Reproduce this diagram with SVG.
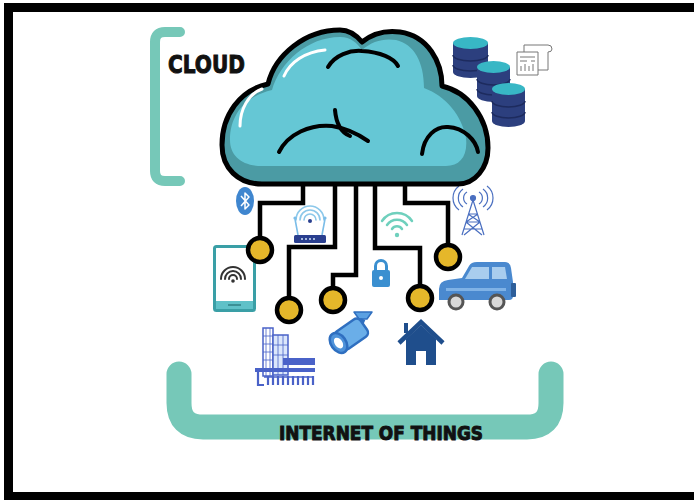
<svg xmlns="http://www.w3.org/2000/svg" width="694" height="500" viewBox="0 0 694 500">
  <defs>
    <style>
      .label { font-family: "DejaVu Sans", "Liberation Sans", sans-serif; font-weight: bold; fill: #111; stroke: #111; stroke-width: 1; }
      .bracket { fill: none; stroke: #76c8b8; stroke-linecap: round; stroke-linejoin: round; }
      .wire { fill: none; stroke: #000; stroke-width: 4.5; stroke-linejoin: miter; }
      .pad { fill: #e5b72a; stroke: #000; stroke-width: 4.5; }
      .db-body { fill: #2c3f7e; }
      .db-top { fill: #38b7c5; }
      .db-band { fill: none; stroke: #1d2b5e; stroke-width: 1.5; }
      .wave { fill: none; stroke-linecap: round; }
    </style>
  </defs>

  <rect width="694" height="500" fill="#fff"/>
  <!-- outer frame, open on the right -->
  <rect x="8.5" y="7.5" width="700" height="489" fill="none" stroke="#000" stroke-width="9"/>

  <!-- brackets and titles -->
  <g id="cloud-label">
    <path class="bracket" stroke-width="10" d="M180 32 H165 Q155 32 155 42 V171 Q155 181 165 181 H180"/>
    <text class="label" x="168" y="73" font-size="24" textLength="77" lengthAdjust="spacingAndGlyphs">CLOUD</text>
  </g>
  <g id="iot-label">
    <path class="bracket" stroke-width="25" d="M179 374 V403 Q179 427 203 427 H527 Q551 427 551 403 V374"/>
    <text class="label" x="279" y="440" font-size="20" textLength="204" lengthAdjust="spacingAndGlyphs">INTERNET OF THINGS</text>
  </g>

  <!-- storage stack -->
  <g id="database">
    <g>
      <path class="db-body" d="M453 43 V72 A17.5 6 0 0 0 488 72 V43 Z"/>
      <path class="db-band" d="M453 55 A17.5 6 0 0 0 488 55 M453 65 A17.5 6 0 0 0 488 65"/>
      <ellipse class="db-top" cx="470.5" cy="43" rx="17.5" ry="6"/>
    </g>
    <g>
      <path class="db-body" d="M477 67 V96 A16.5 6 0 0 0 510 96 V67 Z"/>
      <path class="db-band" d="M477 79 A16.5 6 0 0 0 510 79 M477 89 A16.5 6 0 0 0 510 89"/>
      <ellipse class="db-top" cx="493.5" cy="67" rx="16.5" ry="6"/>
    </g>
    <g>
      <path class="db-body" d="M492 89 V121 A16.5 6 0 0 0 525 121 V89 Z"/>
      <path class="db-band" d="M492 101 A16.5 6 0 0 0 525 101 M492 112 A16.5 6 0 0 0 525 112"/>
      <ellipse class="db-top" cx="508.5" cy="89" rx="16.5" ry="6"/>
    </g>
  </g>

  <!-- document sheets -->
  <g id="document" fill="#fff" stroke="#777" stroke-width="1">
    <path d="M524 45 H548 Q552 45 552 49 Q552 52 548 52 V70 H524 Z"/>
    <path d="M517 52 H538 V75 H517 Z"/>
    <path d="M520 57 H535 M520 61 H527 M531 61 H535 M521 66 V71 M525 64 V71 M529 66 V71 M533 64 V71" fill="none"/>
  </g>

  <!-- devices -->
  <g id="bluetooth">
    <ellipse cx="245" cy="201" rx="9" ry="14" fill="#3f86cf"/>
    <path d="M241 196 L249 205 L245 209 V193 L249 197 L241 206" fill="none" stroke="#fff" stroke-width="1.5" stroke-linejoin="round"/>
  </g>

  <g id="router">
    <g class="wave" stroke="#8cc8ea" stroke-width="1.6">
      <path d="M304 220 A6 6 0 0 1 316 220"/>
      <path d="M300 220 A10 10 0 0 1 320 220"/>
      <path d="M296 220 A14 14 0 0 1 324 220"/>
    </g>
    <circle cx="310" cy="221" r="2" fill="#2a3f8f"/>
    <path d="M298 235 L295 219 M322 235 L325 219" stroke="#7bbde8" stroke-width="1.6" fill="none"/>
    <circle cx="295" cy="218" r="1.6" fill="#7bbde8"/>
    <circle cx="325" cy="218" r="1.6" fill="#7bbde8"/>
    <rect x="294" y="235" width="32" height="8" rx="1.5" fill="#2a3f8f"/>
    <g fill="#cfe3f7">
      <circle cx="302" cy="239" r="1"/><circle cx="306" cy="239" r="1"/><circle cx="310" cy="239" r="1"/><circle cx="314" cy="239" r="1"/>
    </g>
  </g>

  <g id="phone">
    <rect x="214.5" y="246.5" width="40" height="64" rx="2" fill="#fff" stroke="#3a9fa6" stroke-width="3"/>
    <rect x="216" y="301" width="37" height="8" fill="#5fc1c8"/>
    <line x1="228" y1="305" x2="241" y2="305" stroke="#2f7f86" stroke-width="1.5"/>
    <g class="wave" stroke="#333" stroke-width="2">
      <path d="M229 279 A4 4 0 0 1 237 279"/>
      <path d="M225 279 A8 8 0 0 1 241 279"/>
      <path d="M221 279 A12 12 0 0 1 245 279"/>
    </g>
    <circle cx="233" cy="281" r="1.8" fill="#333"/>
  </g>

  <g id="wifi">
    <g class="wave" stroke="#6fd0bd" stroke-width="2.5">
      <path d="M392 229 A6 6 0 0 1 402 229"/>
      <path d="M387 225 A12 12 0 0 1 407 225"/>
      <path d="M382 221 A18 18 0 0 1 412 221"/>
    </g>
    <circle cx="397" cy="235" r="2.2" fill="#6fd0bd"/>
  </g>

  <g id="tower" fill="none" stroke="#4a6fc0" stroke-width="1.2">
    <path d="M473 200 L462 235 M473 200 L484 235 M466 222 H480 M464 229 H482 M468 214 H478 M466 222 L482 235 M480 222 L464 235 M468 214 L480 222 M478 214 L466 222"/>
    <circle cx="473" cy="198" r="2.5" fill="#4a6fc0"/>
    <path d="M467 192 A7 7 0 0 0 467 204 M463 189 A11 11 0 0 0 463 207 M459 186 A15 15 0 0 0 459 210"/>
    <path d="M479 192 A7 7 0 0 1 479 204 M483 189 A11 11 0 0 1 483 207 M487 186 A15 15 0 0 1 487 210"/>
  </g>

  <g id="lock">
    <path d="M375.5 271 V266 A5.5 5.5 0 0 1 386.5 266 V271" fill="none" stroke="#3a8fd0" stroke-width="3"/>
    <rect x="372" y="270" width="18" height="17" rx="2" fill="#3a8fd0"/>
    <circle cx="381" cy="278" r="2" fill="#fff"/>
  </g>

  <g id="car">
    <path fill="#4a89cf" d="M439 300 V289 Q439 281 448 280 L462 278 L469 266 Q471 262 477 262 H505 Q510 262 511 268 L513 282 V296 Q513 300 509 300 Z"/>
    <rect x="511" y="283" width="5" height="14" rx="1" fill="#2e5f9a"/>
    <path fill="#a9cdee" d="M465 279 L472 267 H489 V279 Z"/>
    <path fill="#a9cdee" d="M492 267 H505 L507 279 H492 Z"/>
    <rect x="446" y="288" width="60" height="3" fill="#7fb2e6"/>
    <g stroke="#555" stroke-width="3" fill="#d9d9d9">
      <circle cx="456" cy="302" r="7"/>
      <circle cx="497" cy="302" r="7"/>
    </g>
  </g>

  <g id="building" stroke="#4a62c8" fill="none">
    <rect x="263" y="328" width="10" height="48" stroke-width="1.5"/>
    <rect x="273" y="335" width="15" height="40" stroke-width="1.5" fill="#dbe6fb"/>
    <path d="M266 328 V376 M270 328 V376 M263 336 H273 M263 344 H273 M263 352 H273 M263 360 H273 M278 335 V375 M283 335 V375 M273 345 H288 M273 355 H288" stroke-width="0.8"/>
    <rect x="283" y="358" width="32" height="7" fill="#4a62c8" stroke="none"/>
    <rect x="255" y="368" width="60" height="4" fill="#4a62c8" stroke="none"/>
    <path d="M258 372 V385 H264 M268 376 V385 M273 376 V385 M278 376 V385 M283 376 V385 M288 376 V385 M293 376 V385 M298 376 V385 M303 376 V385 M308 376 V385 M313 376 V385" stroke-width="2.2"/>
    <path d="M264 377 H313" stroke-width="1.5"/>
  </g>

  <g id="camera">
    <!-- wall mount -->
    <path d="M354 312 H372 L367 319 H359 Z" fill="#5aa0e2" stroke="#2f6fc0" stroke-width="1.5" stroke-linejoin="round"/>
    <path d="M363 319 L360 326" stroke="#2f6fc0" stroke-width="5"/>
    <!-- body and lens -->
    <g transform="translate(350 335) rotate(-35)">
      <rect x="-14" y="-10.5" width="31" height="21" rx="5" fill="#6aaee8" stroke="#2f6fc0" stroke-width="2.5"/>
      <ellipse cx="-14" cy="0" rx="7.5" ry="11" fill="#4f93da" stroke="#2f6fc0" stroke-width="2.5"/>
      <ellipse cx="-14" cy="0" rx="3.8" ry="6" fill="#fff"/>
    </g>
  </g>

  <g id="house" fill="#1f4e8c">
    <rect x="404" y="323" width="4" height="10"/>
    <path d="M399 343 L421 322 L443 343" fill="none" stroke="#1f4e8c" stroke-width="4.5" stroke-linejoin="miter"/>
    <path d="M406 339 L421 325 L436 339 V365 H426 V351 H416 V365 H406 Z"/>
  </g>

  <!-- wiring from the cloud to the devices -->
  <g id="connectors">
    <path class="wire" d="M303 180 V203 H260 V250"/>
    <path class="wire" d="M335 180 V247 H289 V310"/>
    <path class="wire" d="M356 180 V275 H333 V300"/>
    <path class="wire" d="M375 180 V248 H420 V298"/>
    <path class="wire" d="M405 180 V203 H448 V257"/>
    <circle class="pad" cx="260" cy="250" r="12"/>
    <circle class="pad" cx="289" cy="310" r="12"/>
    <circle class="pad" cx="333" cy="300" r="12"/>
    <circle class="pad" cx="420" cy="298" r="12"/>
    <circle class="pad" cx="448" cy="257" r="12"/>
  </g>

  <!-- cloud -->
  <g id="cloud">
    <path fill="#4b9ba4" d="M262 184 C238 184 222 168 222 145 C222 115 240 90 268 84 C275 55 305 30 340 30 C350 30 357 36 362 42 C372 34 385 30 400 32 C428 36 442 62 442 86 C468 92 488 118 488 148 C488 168 475 184 458 184 Z"/>
    <path fill="#65c7d5" d="M262 166 C242 166 230 156 230 140 C230 114 246 96 272 90 C280 62 308 37 340 37 C351 37 357 43 362 50 C372 41 384 38 396 40 C414 44 424 62 424 88 C446 96 462 116 466 138 C468 156 460 166 446 166 Z"/>
    <path fill="none" stroke="#000" stroke-width="5" stroke-linejoin="round" d="M262 184 C238 184 222 168 222 145 C222 115 240 90 268 84 C275 55 305 30 340 30 C350 30 357 36 362 42 C372 34 385 30 400 32 C428 36 442 62 442 86 C468 92 488 118 488 148 C488 168 475 184 458 184 Z"/>
    <!-- highlights -->
    <path fill="none" stroke="#fff" stroke-width="3" stroke-linecap="round" d="M240 126 C240 110 248 94 262 89"/>
    <path fill="none" stroke="#fff" stroke-width="3" stroke-linecap="round" d="M284 76 C290 62 305 52 325 50"/>
    <!-- inner folds -->
    <g fill="none" stroke="#000" stroke-width="4" stroke-linecap="round">
      <path d="M328 67 C335 55 350 50 362 51 C380 52 394 58 398 66"/>
      <path d="M279 152 C288 134 310 124 332 126 C345 128 358 134 368 141"/>
      <path d="M335 110 C336 122 340 132 350 136"/>
      <path d="M422 154 C424 136 436 126 448 127 C464 128 476 140 478 152"/>
    </g>
  </g>
</svg>
